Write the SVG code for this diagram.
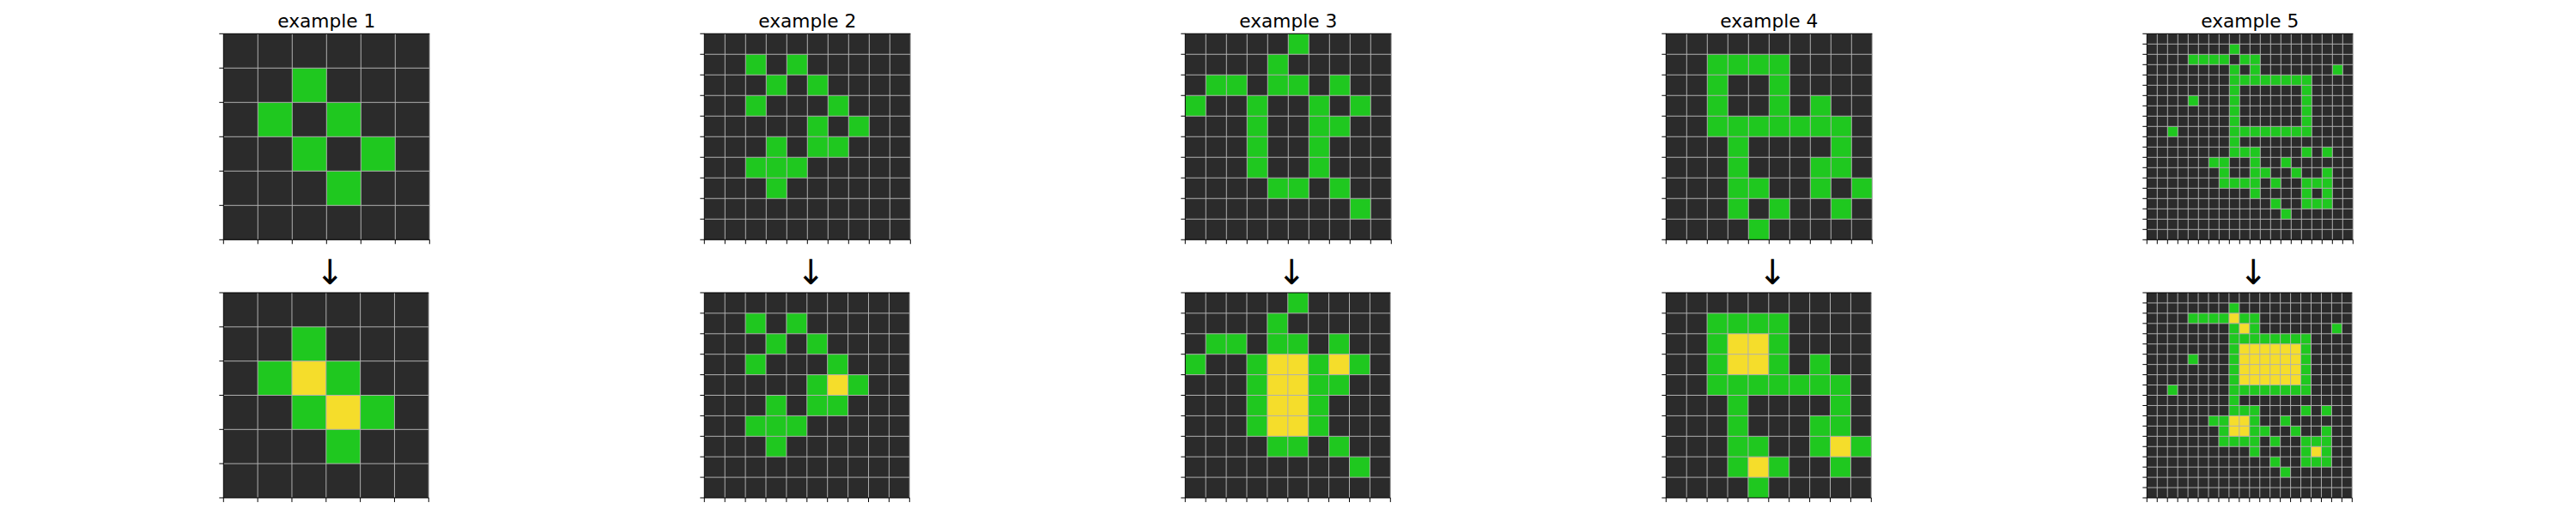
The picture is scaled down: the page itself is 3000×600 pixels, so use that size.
<svg xmlns="http://www.w3.org/2000/svg" xmlns:xlink="http://www.w3.org/1999/xlink" width="3000" height="600" viewBox="0 0 3000 600">
<style>
.bg{fill:#2b2b2b}
.g{fill:#1fc81f}
.y{fill:#f5dd2b}
.grid{fill:none;stroke:#b0b0b0}
.frame{fill:none;stroke:#000}
.tick{fill:none;stroke:#000}
.s6{stroke-width:0.025}
.s10{stroke-width:0.0417}
.s20{stroke-width:0.0833}
.title{font-family:"DejaVu Sans","Liberation Sans",sans-serif;font-size:21.7px;text-anchor:middle;fill:#000}
.arrow{font-family:"DejaVu Sans","Liberation Sans",sans-serif;font-size:40px;text-anchor:middle;fill:#000}
</style>
<defs>
<path id="g6" d="M1,0V6M2,0V6M3,0V6M4,0V6M5,0V6M6,0V6M0,1H6M0,2H6M0,3H6M0,4H6M0,5H6"/>
<path id="t6" d="M0,0h-.125M0,1h-.125M0,2h-.125M0,3h-.125M0,4h-.125M0,5h-.125M0,6h-.125M0,6v.125M1,6v.125M2,6v.125M3,6v.125M4,6v.125M5,6v.125M6,6v.125"/>
<path id="f6" d="M6,0H0V6H6"/>
<path id="g10" d="M1,0V10M2,0V10M3,0V10M4,0V10M5,0V10M6,0V10M7,0V10M8,0V10M9,0V10M10,0V10M0,1H10M0,2H10M0,3H10M0,4H10M0,5H10M0,6H10M0,7H10M0,8H10M0,9H10"/>
<path id="t10" d="M0,0h-.208M0,1h-.208M0,2h-.208M0,3h-.208M0,4h-.208M0,5h-.208M0,6h-.208M0,7h-.208M0,8h-.208M0,9h-.208M0,10h-.208M0,10v.208M1,10v.208M2,10v.208M3,10v.208M4,10v.208M5,10v.208M6,10v.208M7,10v.208M8,10v.208M9,10v.208M10,10v.208"/>
<path id="f10" d="M10,0H0V10H10"/>
<path id="g20" d="M1,0V20M2,0V20M3,0V20M4,0V20M5,0V20M6,0V20M7,0V20M8,0V20M9,0V20M10,0V20M11,0V20M12,0V20M13,0V20M14,0V20M15,0V20M16,0V20M17,0V20M18,0V20M19,0V20M20,0V20M0,1H20M0,2H20M0,3H20M0,4H20M0,5H20M0,6H20M0,7H20M0,8H20M0,9H20M0,10H20M0,11H20M0,12H20M0,13H20M0,14H20M0,15H20M0,16H20M0,17H20M0,18H20M0,19H20"/>
<path id="t20" d="M0,0h-.417M0,1h-.417M0,2h-.417M0,3h-.417M0,4h-.417M0,5h-.417M0,6h-.417M0,7h-.417M0,8h-.417M0,9h-.417M0,10h-.417M0,11h-.417M0,12h-.417M0,13h-.417M0,14h-.417M0,15h-.417M0,16h-.417M0,17h-.417M0,18h-.417M0,19h-.417M0,20h-.417M0,20v.417M1,20v.417M2,20v.417M3,20v.417M4,20v.417M5,20v.417M6,20v.417M7,20v.417M8,20v.417M9,20v.417M10,20v.417M11,20v.417M12,20v.417M13,20v.417M14,20v.417M15,20v.417M16,20v.417M17,20v.417M18,20v.417M19,20v.417M20,20v.417"/>
<path id="f20" d="M20,0H0V20H20"/>
<g id="in1" class="g">
<rect x="2" y="1" width="1" height="1"/>
<rect x="1" y="2" width="1" height="1"/><rect x="3" y="2" width="1" height="1"/>
<rect x="2" y="3" width="1" height="1"/><rect x="4" y="3" width="1" height="1"/>
<rect x="3" y="4" width="1" height="1"/>
</g>
<g id="in2" class="g">
<rect x="2" y="1" width="1" height="1"/><rect x="4" y="1" width="1" height="1"/>
<rect x="3" y="2" width="1" height="1"/><rect x="5" y="2" width="1" height="1"/>
<rect x="2" y="3" width="1" height="1"/><rect x="6" y="3" width="1" height="1"/>
<rect x="5" y="4" width="1" height="1"/><rect x="7" y="4" width="1" height="1"/>
<rect x="3" y="5" width="1" height="1"/><rect x="5" y="5" width="2" height="1"/>
<rect x="2" y="6" width="3" height="1"/>
<rect x="3" y="7" width="1" height="1"/>
</g>
<g id="in3" class="g">
<rect x="5" y="0" width="1" height="1"/>
<rect x="4" y="1" width="1" height="1"/>
<rect x="1" y="2" width="2" height="1"/><rect x="4" y="2" width="2" height="1"/><rect x="7" y="2" width="1" height="1"/>
<rect x="0" y="3" width="1" height="1"/><rect x="3" y="3" width="1" height="1"/><rect x="6" y="3" width="1" height="1"/><rect x="8" y="3" width="1" height="1"/>
<rect x="3" y="4" width="1" height="1"/><rect x="6" y="4" width="2" height="1"/>
<rect x="3" y="5" width="1" height="2"/><rect x="6" y="5" width="1" height="2"/>
<rect x="4" y="7" width="2" height="1"/><rect x="7" y="7" width="1" height="1"/>
<rect x="8" y="8" width="1" height="1"/>
</g>
<g id="in4" class="g">
<rect x="2" y="1" width="4" height="1"/>
<rect x="2" y="2" width="1" height="2"/><rect x="5" y="2" width="1" height="2"/><rect x="7" y="3" width="1" height="1"/>
<rect x="2" y="4" width="7" height="1"/>
<rect x="3" y="5" width="1" height="4"/><rect x="8" y="5" width="1" height="2"/>
<rect x="7" y="6" width="1" height="2"/>
<rect x="4" y="7" width="1" height="1"/><rect x="9" y="7" width="1" height="1"/>
<rect x="5" y="8" width="1" height="1"/><rect x="8" y="8" width="1" height="1"/>
<rect x="4" y="9" width="1" height="1"/>
</g>
<g id="in5" class="g">
<rect x="8" y="1" width="1" height="1"/>
<rect x="4" y="2" width="4" height="1"/><rect x="9" y="2" width="2" height="1"/>
<rect x="8" y="3" width="1" height="1"/><rect x="10" y="3" width="1" height="1"/><rect x="18" y="3" width="1" height="1"/>
<rect x="8" y="4" width="8" height="1"/>
<rect x="8" y="5" width="1" height="4"/><rect x="15" y="5" width="1" height="4"/>
<rect x="4" y="6" width="1" height="1"/>
<rect x="2" y="9" width="1" height="1"/><rect x="8" y="9" width="8" height="1"/>
<rect x="8" y="10" width="1" height="1"/>
<rect x="8" y="11" width="3" height="1"/><rect x="15" y="11" width="1" height="1"/><rect x="17" y="11" width="1" height="1"/>
<rect x="6" y="12" width="2" height="1"/><rect x="10" y="12" width="1" height="1"/><rect x="13" y="12" width="1" height="1"/>
<rect x="7" y="13" width="1" height="1"/><rect x="10" y="13" width="2" height="1"/><rect x="14" y="13" width="1" height="1"/><rect x="17" y="13" width="1" height="1"/>
<rect x="7" y="14" width="4" height="1"/><rect x="12" y="14" width="1" height="1"/><rect x="15" y="14" width="3" height="1"/>
<rect x="10" y="15" width="1" height="1"/><rect x="15" y="15" width="1" height="1"/><rect x="17" y="15" width="1" height="1"/>
<rect x="12" y="16" width="1" height="1"/><rect x="15" y="16" width="3" height="1"/>
<rect x="13" y="17" width="1" height="1"/>
</g>
</defs>
<rect width="3000" height="600" fill="#fff"/>

<g id="example1">
<text class="title" x="380.3" y="31.7">example 1</text>
<g id="example1-input" class="s6" transform="translate(260.3,39.3) scale(40)">
<rect class="bg" width="6" height="6"/><use href="#in1"/>
<use href="#g6" class="grid"/><use href="#f6" class="frame"/><use href="#t6" class="tick"/>
</g>
<g id="example1-output" class="s6" transform="translate(260.3,341) scale(39.83)">
<rect class="bg" width="6" height="6"/><use href="#in1"/>
<g class="y"><rect x="2" y="2" width="1" height="1"/><rect x="3" y="3" width="1" height="1"/></g>
<use href="#g6" class="grid"/><use href="#f6" class="frame"/><use href="#t6" class="tick"/>
</g>
</g>

<g id="example2">
<text class="title" x="940.3" y="31.7">example 2</text>
<g id="example2-input" class="s10" transform="translate(820.3,39.3) scale(24)">
<rect class="bg" width="10" height="10"/><use href="#in2"/>
<use href="#g10" class="grid"/><use href="#f10" class="frame"/><use href="#t10" class="tick"/>
</g>
<g id="example2-output" class="s10" transform="translate(820.3,341) scale(23.9)">
<rect class="bg" width="10" height="10"/><use href="#in2"/>
<g class="y"><rect x="6" y="4" width="1" height="1"/></g>
<use href="#g10" class="grid"/><use href="#f10" class="frame"/><use href="#t10" class="tick"/>
</g>
</g>

<g id="example3">
<text class="title" x="1500.3" y="31.7">example 3</text>
<g id="example3-input" class="s10" transform="translate(1380.3,39.3) scale(24)">
<rect class="bg" width="10" height="10"/><use href="#in3"/>
<use href="#g10" class="grid"/><use href="#f10" class="frame"/><use href="#t10" class="tick"/>
</g>
<g id="example3-output" class="s10" transform="translate(1380.3,341) scale(23.9)">
<rect class="bg" width="10" height="10"/><use href="#in3"/>
<g class="y"><rect x="4" y="3" width="2" height="4"/><rect x="7" y="3" width="1" height="1"/></g>
<use href="#g10" class="grid"/><use href="#f10" class="frame"/><use href="#t10" class="tick"/>
</g>
</g>

<g id="example4">
<text class="title" x="2060.3" y="31.7">example 4</text>
<g id="example4-input" class="s10" transform="translate(1940.3,39.3) scale(24)">
<rect class="bg" width="10" height="10"/><use href="#in4"/>
<use href="#g10" class="grid"/><use href="#f10" class="frame"/><use href="#t10" class="tick"/>
</g>
<g id="example4-output" class="s10" transform="translate(1940.3,341) scale(23.9)">
<rect class="bg" width="10" height="10"/><use href="#in4"/>
<g class="y"><rect x="3" y="2" width="2" height="2"/><rect x="8" y="7" width="1" height="1"/><rect x="4" y="8" width="1" height="1"/></g>
<use href="#g10" class="grid"/><use href="#f10" class="frame"/><use href="#t10" class="tick"/>
</g>
</g>

<g id="example5">
<text class="title" x="2620.3" y="31.7">example 5</text>
<g id="example5-input" class="s20" transform="translate(2500.3,39.3) scale(12)">
<rect class="bg" width="20" height="20"/><use href="#in5"/>
<use href="#g20" class="grid"/><use href="#f20" class="frame"/><use href="#t20" class="tick"/>
</g>
<g id="example5-output" class="s20" transform="translate(2500.3,341) scale(11.95)">
<rect class="bg" width="20" height="20"/><use href="#in5"/>
<g class="y"><rect x="8" y="2" width="1" height="1"/><rect x="9" y="3" width="1" height="1"/><rect x="9" y="5" width="6" height="4"/><rect x="8" y="12" width="2" height="2"/><rect x="16" y="15" width="1" height="1"/></g>
<use href="#g20" class="grid"/><use href="#f20" class="frame"/><use href="#t20" class="tick"/>
</g>
</g>

<g id="connectors">
<text class="arrow" x="384.3" y="331">↓</text>
<text class="arrow" x="944.3" y="331">↓</text>
<text class="arrow" x="1504.3" y="331">↓</text>
<text class="arrow" x="2064.3" y="331">↓</text>
<text class="arrow" x="2624.3" y="331">↓</text>
</g>
</svg>
